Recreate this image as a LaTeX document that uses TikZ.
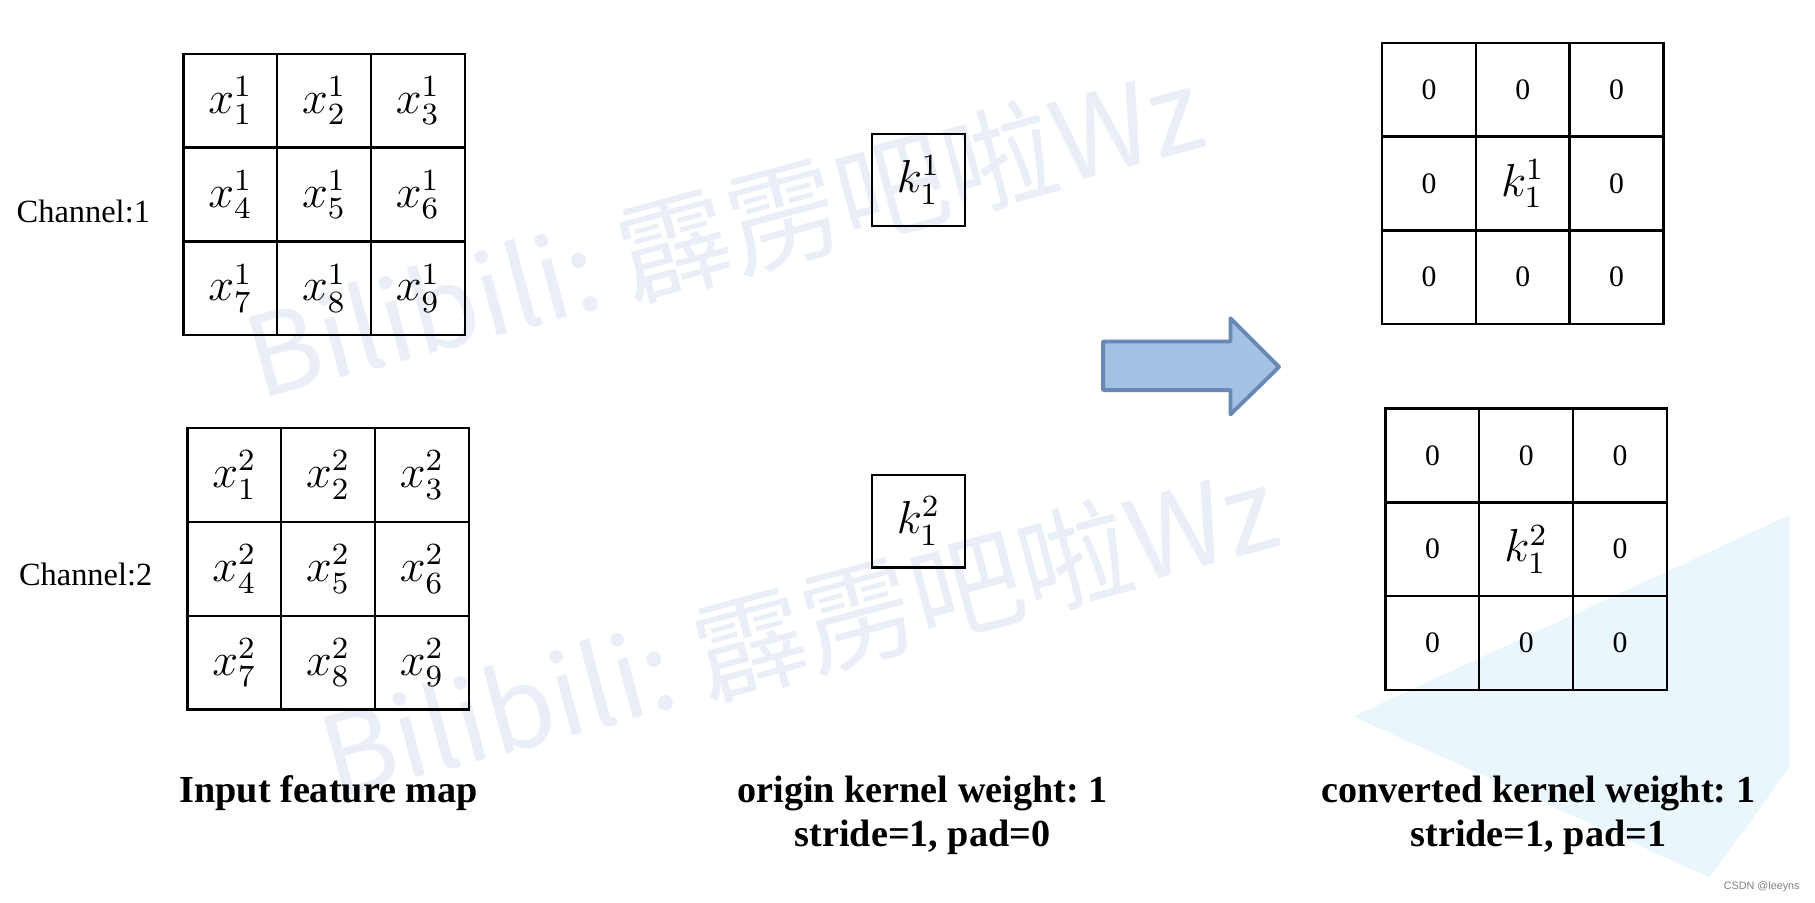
\documentclass[tikz,border=0pt]{standalone}
\usepackage[no-math]{fontspec}
\setmainfont{Liberation Serif}
\newfontfamily\cjkfont{Noto Sans CJK SC}
\newfontfamily\csdnfont{Liberation Sans}
\usetikzlibrary{positioning}
\frenchspacing

\definecolor{arrowfill}{RGB}{163,193,226}
\definecolor{arrowline}{RGB}{104,136,182}
\definecolor{markblue}{RGB}{234,239,247}
\definecolor{paleblue}{RGB}{233,246,252}

\tikzset{
  cell/.style={draw,line width=0.6pt,minimum size=24.3pt,inner sep=0pt},
  xcell/.style={cell,font=\fontsize{12}{14}\selectfont},
  zcell/.style={cell,font=\fontsize{7.7}{9}\selectfont},
  kcell/.style={cell,font=\fontsize{12}{14}\selectfont},
  chlabel/.style={font=\fontsize{8.4}{10}\selectfont},
  capt/.style={align=center,font=\fontsize{9.9}{11.4}\selectfont\bfseries},
  wmark/.style={text=markblue,font=\cjkfont\fontsize{29}{35}\selectfont,rotate=15}
}

\begin{document}
\begin{tikzpicture}[x=0.3pt,y=-0.3pt,node distance=24.3pt,on grid]
\fill[white] (0,0) rectangle (1568,780);
\useasboundingbox (0,0) rectangle (1568,780);
% faint marks behind everything
\fill[paleblue] (1169,619) -- (1546,445) -- (1546,663) -- (1477,758) -- cycle;
\node[wmark] (wm_1) at (625,200) {Bilibili: 霹雳吧啦Wz};
\node[wmark] (wm_2) at (690,545) {Bilibili: 霹雳吧啦Wz};

% input feature map
\node[xcell] (x1_1) at (199,87) {$x_1^1$};
\node[xcell] (x1_2) [right=of x1_1] {$x_2^1$};
\node[xcell] (x1_3) [right=of x1_2] {$x_3^1$};
\node[xcell] (x1_4) [below=of x1_1] {$x_4^1$};
\node[xcell] (x1_5) [right=of x1_4] {$x_5^1$};
\node[xcell] (x1_6) [right=of x1_5] {$x_6^1$};
\node[xcell] (x1_7) [below=of x1_4] {$x_7^1$};
\node[xcell] (x1_8) [right=of x1_7] {$x_8^1$};
\node[xcell] (x1_9) [right=of x1_8] {$x_9^1$};
\node[chlabel] (ch_1) at (72,183) {Channel:1};

\node[xcell] (x2_1) at (202.5,410.5) {$x_1^2$};
\node[xcell] (x2_2) [right=of x2_1] {$x_2^2$};
\node[xcell] (x2_3) [right=of x2_2] {$x_3^2$};
\node[xcell] (x2_4) [below=of x2_1] {$x_4^2$};
\node[xcell] (x2_5) [right=of x2_4] {$x_5^2$};
\node[xcell] (x2_6) [right=of x2_5] {$x_6^2$};
\node[xcell] (x2_7) [below=of x2_4] {$x_7^2$};
\node[xcell] (x2_8) [right=of x2_7] {$x_8^2$};
\node[xcell] (x2_9) [right=of x2_8] {$x_9^2$};
\node[chlabel] (ch_2) at (74,496) {Channel:2};

% origin kernels
\node[kcell,minimum size=24pt] (k_1) at (793.5,155.5) {$k_1^1$};
\node[kcell,minimum size=24pt] (k_2) [below=88.4pt of k_1] {$k_1^2$};

\draw[line width=1pt,draw=arrowline,fill=arrowfill,line join=round]
  (953,295) -- (1063,295) -- (1063,275) -- (1105,317) -- (1063,358) -- (1063,337) -- (953,337) -- cycle;

% converted kernels
\node[zcell] (p1_1) at (1234.5,77.5) {0};
\node[zcell] (p1_2) [right=of p1_1] {0};
\node[zcell] (p1_3) [right=of p1_2] {0};
\node[zcell] (p1_4) [below=of p1_1] {0};
\node[kcell] (p1_5) [right=of p1_4] {$k_1^1$};
\node[zcell] (p1_6) [right=of p1_5] {0};
\node[zcell] (p1_7) [below=of p1_4] {0};
\node[zcell] (p1_8) [right=of p1_7] {0};
\node[zcell] (p1_9) [right=of p1_8] {0};

\node[zcell] (p2_1) at (1237.5,393.5) {0};
\node[zcell] (p2_2) [right=of p2_1] {0};
\node[zcell] (p2_3) [right=of p2_2] {0};
\node[zcell] (p2_4) [below=of p2_1] {0};
\node[kcell] (p2_5) [right=of p2_4] {$k_1^2$};
\node[zcell] (p2_6) [right=of p2_5] {0};
\node[zcell] (p2_7) [below=of p2_4] {0};
\node[zcell] (p2_8) [right=of p2_7] {0};
\node[zcell] (p2_9) [right=of p2_8] {0};

% captions
\node[capt] (in_cap) at (284,685) {Input feature map};
\node[capt] (org_cap) at (797,704) {origin kernel weight: 1\\stride=1, pad=0};
\node[capt] (cvt_cap) at (1329,704) {converted kernel weight: 1\\stride=1, pad=1};
\node[font=\csdnfont\fontsize{2.8}{3}\selectfont,text=gray] (csdn) at (1522,766) {CSDN @leeyns};
\end{tikzpicture}
\end{document}
